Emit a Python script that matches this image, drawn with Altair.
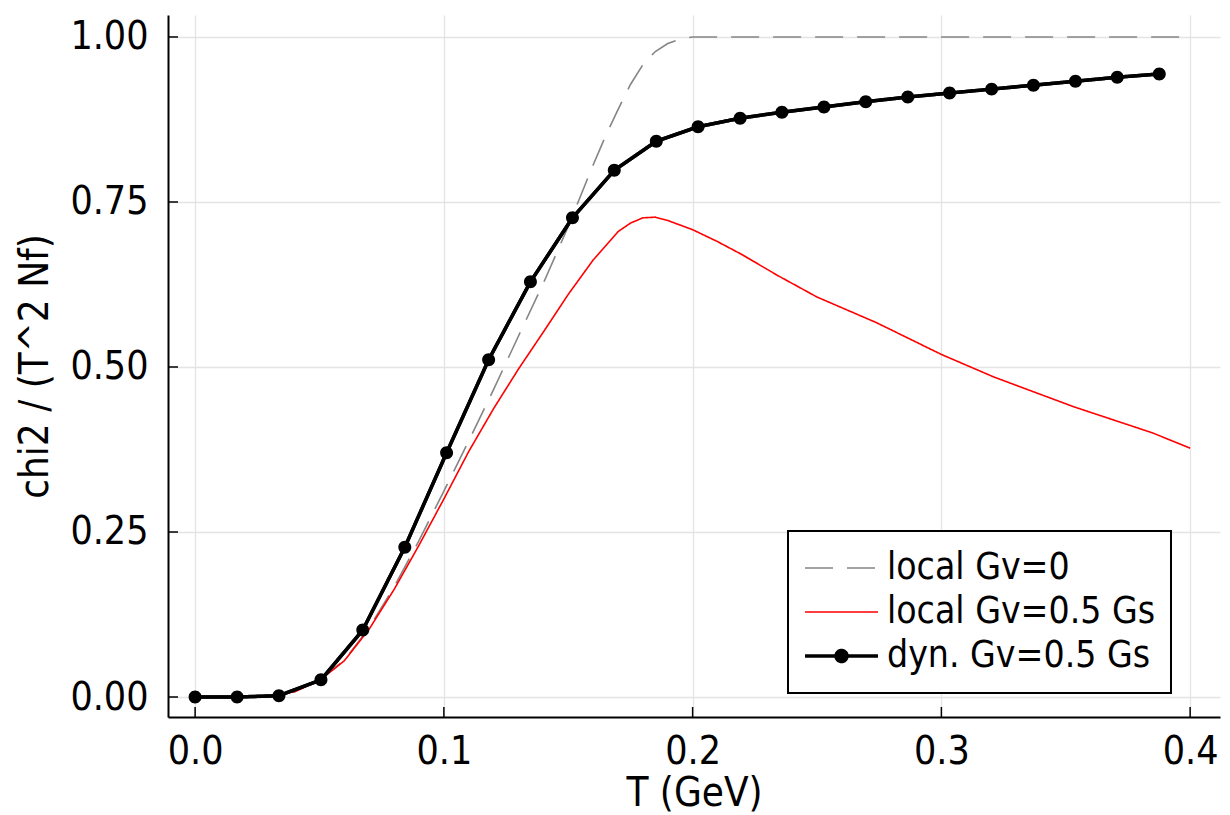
import altair as alt
import pandas as pd

# ---------------- data ----------------
names = ["local Gv=0", "local Gv=0.5 Gs", "dyn. Gv=0.5 Gs"]
colors = ["#858585", "#ff0000", "#000000"]
widths = [1.6, 1.6, 3.5]

T_gv0 = [0.0, 0.02, 0.03, 0.04, 0.05, 0.06, 0.07, 0.08, 0.09, 0.10, 0.11, 0.12,
         0.13, 0.14, 0.15, 0.16, 0.165, 0.17, 0.175, 0.18, 0.185, 0.19, 0.195,
         0.20, 0.25, 0.30, 0.35, 0.40]
chi_gv0 = [0.0, 0.0, 0.002, 0.008, 0.025, 0.056, 0.105, 0.167, 0.237, 0.312,
           0.388, 0.466, 0.547, 0.627, 0.713, 0.806, 0.850, 0.890, 0.928, 0.958,
           0.978, 0.990, 0.997, 1.0, 1.0, 1.0, 1.0, 1.0]

T_loc = [0.0, 0.02, 0.03, 0.04, 0.05, 0.06, 0.07, 0.08, 0.09, 0.10, 0.11, 0.12,
         0.13, 0.14, 0.15, 0.16, 0.17, 0.175, 0.18, 0.185, 0.19, 0.20, 0.21, 0.22,
         0.234, 0.25, 0.274, 0.30, 0.321, 0.353, 0.385, 0.40]
chi_loc = [0.0, 0.0, 0.002, 0.008, 0.025, 0.055, 0.103, 0.163, 0.230, 0.300,
           0.372, 0.437, 0.497, 0.553, 0.610, 0.662, 0.705, 0.718, 0.726, 0.727,
           0.722, 0.708, 0.690, 0.670, 0.639, 0.606, 0.567, 0.519, 0.485, 0.440,
           0.400, 0.377]

T_dyn = [0.0, 0.0169, 0.0337, 0.0506, 0.0674, 0.0843, 0.1011, 0.1180, 0.1348,
         0.1517, 0.1685, 0.1854, 0.2022, 0.2191, 0.2359, 0.2528, 0.2696, 0.2865,
         0.3033, 0.3202, 0.3370, 0.3539, 0.3707, 0.3876]
chi_dyn = [0.0, 0.0, 0.002, 0.026, 0.1015, 0.227, 0.370, 0.511, 0.629, 0.726,
           0.798, 0.842, 0.864, 0.877, 0.886, 0.894, 0.902, 0.909, 0.915, 0.921,
           0.927, 0.933, 0.939, 0.944]

x_ticks = [0.0, 0.1, 0.2, 0.3, 0.4]
y_ticks = [0.0, 0.25, 0.5, 0.75, 1.0]

# ---------------- tables ----------------
df_all = pd.concat([
    pd.DataFrame({"T": T_gv0, "chi": chi_gv0, "series": names[0]}),
    pd.DataFrame({"T": T_loc, "chi": chi_loc, "series": names[1]}),
    pd.DataFrame({"T": T_dyn, "chi": chi_dyn, "series": names[2]}),
], ignore_index=True)
df_dyn = pd.DataFrame({"T": T_dyn, "chi": chi_dyn, "series": names[2]})
df_xt = pd.DataFrame({"T": x_ticks})
df_yt = pd.DataFrame({"chi": y_ticks})

FONT = "DejaVu Sans Condensed, DejaVu Sans"

X = alt.X("T:Q", scale=alt.Scale(domain=[-0.0109, 0.412], nice=False, zero=False),
          axis=alt.Axis(values=x_ticks, format=".1f", title="T (GeV)",
                        labelPadding=15, titlePadding=2))
Y = alt.Y("chi:Q", scale=alt.Scale(domain=[-0.0303, 1.0333], nice=False, zero=False),
          axis=alt.Axis(values=y_ticks, format=".2f", title="chi2 / (T^2 Nf)",
                        labelPadding=20, titlePadding=14))

# legend symbol for the dyn. series: a line with a dot in its middle
DYN_PATH = ("M-1,0H1M-0.15,0A0.15,0.15,0,1,1,0.15,0"
            "A0.15,0.15,0,1,1,-0.15,0Z")


def build(shape_legend, legend_stroke):
    legend = alt.Legend(
        title=None, orient="none", legendX=620, legendY=516, padding=15,
        fillColor="white", strokeColor="black", labelFont=FONT,
        labelFontSize=37, labelColor="#000", labelOffset=7, labelLimit=600,
        symbolSize=5329, symbolType="stroke", symbolStrokeWidth=1.6,
        clipHeight=44, rowPadding=0)

    lines = alt.Chart(df_all).mark_line().encode(
        x=X, y=Y,
        color=alt.Color("series:N", scale=alt.Scale(domain=names, range=colors),
                        legend=legend),
        strokeDash=alt.StrokeDash("series:N",
                                  scale=alt.Scale(domain=names,
                                                  range=[[28, 14], [1, 0], [1, 0]]),
                                  legend=legend),
        strokeWidth=alt.StrokeWidth("series:O",
                                    scale=alt.Scale(type="ordinal", domain=names,
                                                    range=widths),
                                    legend=legend),
        detail="series:N",
    )
    dyn_line = alt.Chart(df_dyn).mark_line(strokeWidth=3.5, color="#000",
                                           strokeJoin="round").encode(x=X, y=Y)
    if shape_legend:
        dyn_pts = alt.Chart(df_dyn).mark_point(
            filled=True, strokeWidth=0, size=7500, color="#000", opacity=1
        ).encode(
            x=X, y=Y,
            shape=alt.Shape("series:N",
                            scale=alt.Scale(domain=names,
                                            range=["stroke", "stroke", DYN_PATH]),
                            legend=legend),
        )
    else:
        dyn_pts = alt.Chart(df_dyn).mark_circle(size=170, color="#000",
                                                opacity=1).encode(x=X, y=Y)
    xt = alt.Chart(df_xt).mark_rule(color="#000", strokeWidth=1.5).encode(
        x=X, y=alt.value(702), y2=alt.value(692))
    yt = alt.Chart(df_yt).mark_rule(color="#000", strokeWidth=1.5).encode(
        y=Y, x=alt.value(0), x2=alt.value(10))

    ch = alt.layer(lines, dyn_line, dyn_pts, xt, yt).properties(
        width=1052, height=702,
        padding={"left": 7, "top": 7, "right": 2, "bottom": 0},
        background="white",
    ).configure_axis(
        labelFont=FONT, titleFont=FONT, labelFontSize=39, titleFontSize=40,
        titleFontWeight="normal", labelColor="#000", titleColor="#000",
        domainColor="#000", domainWidth=2, gridColor="#e4e4e4", gridWidth=1.3,
        ticks=False, tickSize=0,
    ).configure_view(strokeWidth=0)
    if legend_stroke:
        ch = ch.configure_legend(strokeWidth=2)
    return ch


chart = None
for opts in [(True, True), (True, False), (False, True), (False, False)]:
    try:
        cand = build(*opts)
        cand.to_dict()
        chart = cand
        break
    except Exception:
        continue

chart.save("out.html", embed_options={"renderer": "svg", "actions": False})
